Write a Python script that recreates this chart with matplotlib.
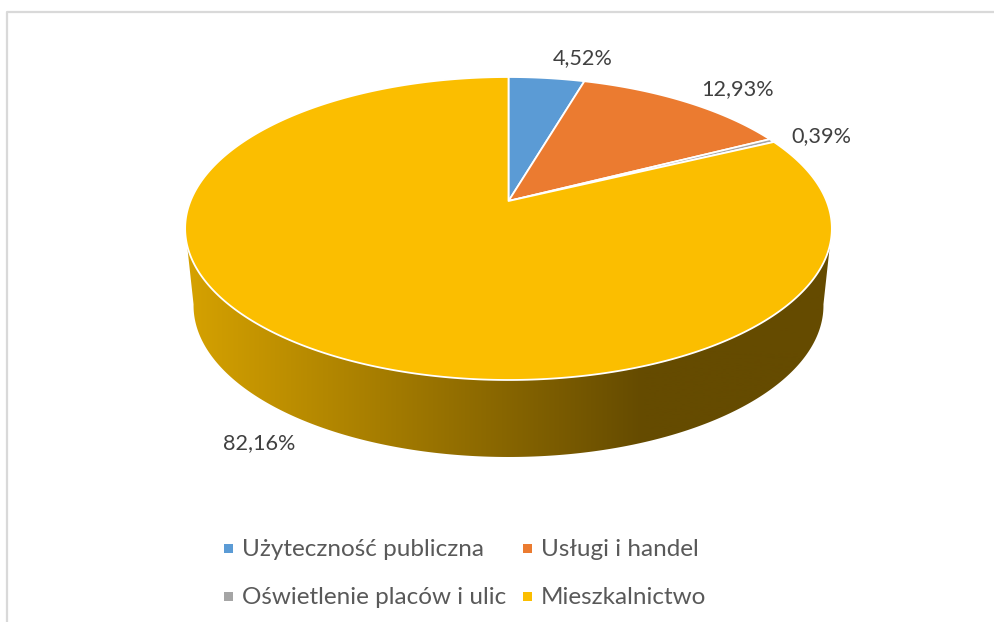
import numpy as np
import matplotlib
matplotlib.use("Agg")
import matplotlib.pyplot as plt
from matplotlib.patches import Polygon, Rectangle

plt.rcParams["font.family"] = ["Lato", "DejaVu Sans"]

categories = ["Użyteczność publiczna", "Usługi i handel", "Oświetlenie placów i ulic", "Mieszkalnictwo"]
values = [4.52, 12.93, 0.39, 82.16]
colors = ["#5B9BD5", "#EB7B30", "#A5A5A5", "#FBBE00"]
value_labels = ["4,52%", "12,93%", "0,39%", "82,16%"]

TEXT_COL = "#404040"
LEGEND_COL = "#595959"
BORDER_COL = "#D9D9D9"

# perspective of the tilted disc, in pixels
APEX_X, APEX_Y = 508.5, 201
SCALE_X, SCALE_Y, TILT = 318, 146.5, 0.1815
SHIFT_Y, SHRINK = 82, 0.974


def project(angle, radius=1.0):
    # angle is clockwise from 12 o'clock, in radians
    u = radius * np.sin(angle)
    v = radius * np.cos(angle)
    d = 1 + TILT * v
    return APEX_X + SCALE_X * u / d, APEX_Y - SCALE_Y * v / d


fig = plt.figure(figsize=(9.95, 6.22), dpi=100, facecolor="white")
ax = fig.add_axes([0, 0, 1, 1])
ax.set_xlim(0, 995)
ax.set_ylim(622, 0)
ax.axis("off")

# chart frame, only left and top show in the crop
ax.plot([6.5, 6.5, 995], [622, 11.5, 11.5], color=BORDER_COL, lw=1.6, zorder=1)

# side wall with the horizontal shading
t = np.radians(np.linspace(100, 260, 300))
tx, ty = project(t)
bx = APEX_X + (tx - APEX_X) * SHRINK
by = ty + SHIFT_Y - 5
wall = Polygon(np.column_stack([np.r_[tx, bx[::-1]], np.r_[ty, by[::-1]]]),
               closed=True, facecolor="none", edgecolor="none")
ax.add_patch(wall)
xs = np.linspace(180, 840, 661)
stops_x = [185, 644, 840]
stops = np.array([[0xD6, 0xA2, 0x00], [0x65, 0x4B, 0x00], [0x65, 0x4B, 0x00]]) / 255
grad = np.stack([np.interp(xs, stops_x, stops[:, i]) for i in range(3)], axis=-1)[None, :, :]
im = ax.imshow(grad, extent=[180, 840, 470, 230], aspect="auto", zorder=2)
im.set_clip_path(wall)
ax.set_xlim(0, 995)
ax.set_ylim(622, 0)

# top face, one slice per value
edges = np.cumsum([0] + values) / np.sum(values) * 2 * np.pi
for start, end, col in zip(edges[:-1], edges[1:], colors):
    a = np.linspace(start, end, max(int((end - start) * 80), 4))
    x, y = project(a)
    ax.add_patch(Polygon(np.column_stack([np.r_[APEX_X, x], np.r_[APEX_Y, y]]), closed=True,
                         facecolor=col, edgecolor="white", linewidth=1.3, zorder=3,
                         joinstyle="round"))

label_pos = [(583, 58), (737, 89), (821, 136), (259, 443)]
for txt, (lx, ly) in zip(value_labels, label_pos):
    ax.text(lx, ly, txt, color=TEXT_COL, fontsize=15.6, ha="center", va="center", zorder=5)

legend_pos = [(224, 548), (523, 548), (224, 596), (523, 596)]
for name, col, (lx, ly) in zip(categories, colors, legend_pos):
    ax.add_patch(Rectangle((lx, ly - 4.5), 9, 9, facecolor=col, edgecolor="none", zorder=5))
    ax.text(lx + 18, ly + 1, name, color=LEGEND_COL, fontsize=17.5, ha="left", va="center", zorder=5)

fig.savefig("out.png", dpi=100, facecolor="white")
